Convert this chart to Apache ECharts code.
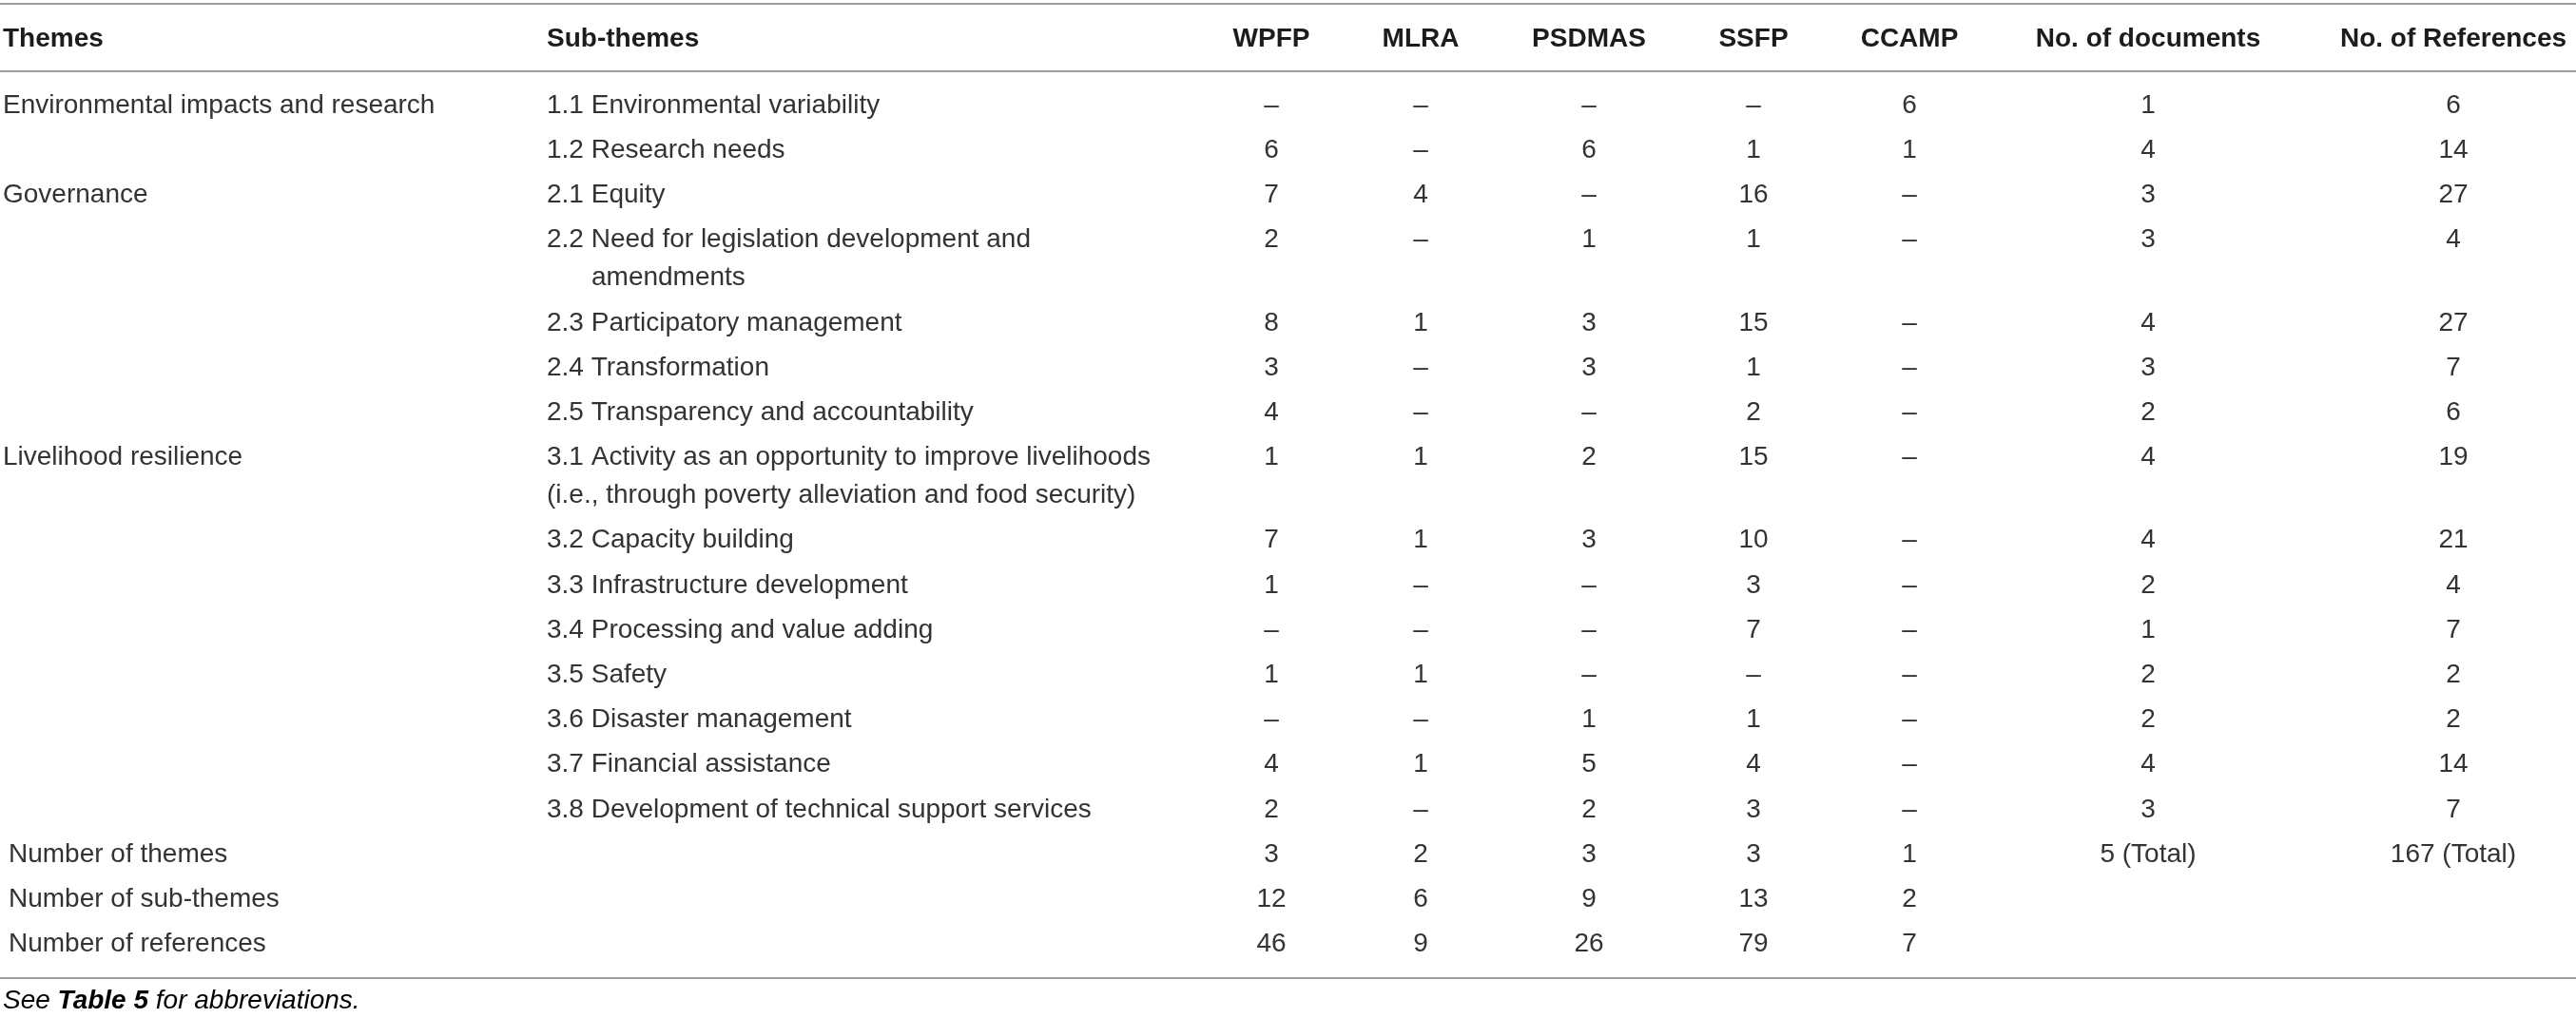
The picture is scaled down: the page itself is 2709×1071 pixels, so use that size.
<!DOCTYPE html>
<html>
<head>
<meta charset="utf-8">
<title>Themes and sub-themes by programme</title>
<script src="https://cdn.jsdelivr.net/npm/echarts@6.0.0/dist/echarts.min.js"></script>
<style>
    html, body { margin: 0; padding: 0; background: #fff; }
    #mainChart { width: 2709px; height: 1071px; }
</style>
</head>
<body>
<div id="mainChart"></div>
<script>
// table content
var columns = ['Themes', 'Sub-themes', 'WPFP', 'MLRA', 'PSDMAS', 'SSFP', 'CCAMP', 'No. of documents', 'No. of References'];
var themes = ['Environmental impacts and research', 'Governance', 'Livelihood resilience'];
var themeFirstRow = [0, 2, 7];
var subThemes = [
    '1.1 Environmental variability',
    '1.2 Research needs',
    '2.1 Equity',
    '2.2 Need for legislation development and\namendments',
    '2.3 Participatory management',
    '2.4 Transformation',
    '2.5 Transparency and accountability',
    '3.1 Activity as an opportunity to improve livelihoods\n(i.e., through poverty alleviation and food security)',
    '3.2 Capacity building',
    '3.3 Infrastructure development',
    '3.4 Processing and value adding',
    '3.5 Safety',
    '3.6 Disaster management',
    '3.7 Financial assistance',
    '3.8 Development of technical support services'
];
var wpfp   = [null, 6, 7, 2, 8, 3, 4, 1, 7, 1, null, 1, null, 4, 2];
var mlra   = [null, null, 4, null, 1, null, null, 1, 1, null, null, 1, null, 1, null];
var psdmas = [null, 6, null, 1, 3, 3, null, 2, 3, null, null, null, 1, 5, 2];
var ssfp   = [null, 1, 16, 1, 15, 1, 2, 15, 10, 3, 7, null, 1, 4, 3];
var ccamp  = [6, 1, null, null, null, null, null, null, null, null, null, null, null, null, null];
var noDocuments  = [1, 4, 3, 3, 4, 3, 2, 4, 4, 2, 1, 2, 2, 4, 3];
var noReferences = [6, 14, 27, 4, 27, 7, 6, 19, 21, 4, 7, 2, 2, 14, 7];

var summaryLabels = ['Number of themes', 'Number of sub-themes', 'Number of references'];
var numThemes     = [3, 2, 3, 3, 1];
var numSubThemes  = [12, 6, 9, 13, 2];
var numReferences = [46, 9, 26, 79, 7];
var totalDocuments = '5 (Total)';
var totalReferences = '167 (Total)';
var footnote = '{i|See }{b|Table 5}{i| for abbreviations.}';

// layout (pixels on the 2709 x 1071 canvas)
var W = 2709, H = 1071;
var colX = [3, 575, 1337, 1494, 1671, 1844, 2008, 2259, 2580];
var headerY = 41, firstRowY = 111, rowGap = 47.2, lineGap = 40;
var summaryIndent = 6, wrapIndent = 47, indentedWraps = [3];
var ruleY = [4, 75, 1029], footY = 1053;

var FONT = '"Liberation Sans", Arial, sans-serif';
var bodyFont = '28px ' + FONT;
var headFont = 'bold 28px ' + FONT;
var bodyColor = '#333333', headColor = '#1c1c1c';

var cells = [];
function cell(x, y, text, font, color, align) {
    cells.push({ x: x, y: y, text: text, font: font, color: color, align: align });
}
function fmt(v) { return v == null ? '\u2013' : String(v); }

// header
columns.forEach(function (c, i) {
    cell(colX[i], headerY, c, headFont, headColor, i < 2 ? 'left' : 'center');
});

// body rows
var programmes = [wpfp, mlra, psdmas, ssfp, ccamp];
var y = firstRowY;
subThemes.forEach(function (s, r) {
    var t = themeFirstRow.indexOf(r);
    if (t >= 0) cell(colX[0], y, themes[t], bodyFont, bodyColor, 'left');
    s.split('\n').forEach(function (line, j) {
        var dx = (j > 0 && indentedWraps.indexOf(r) >= 0) ? wrapIndent : 0;
        cell(colX[1] + dx, y + j * lineGap, line, bodyFont, bodyColor, 'left');
    });
    programmes.forEach(function (p, k) {
        cell(colX[2 + k], y, fmt(p[r]), bodyFont, bodyColor, 'center');
    });
    cell(colX[7], y, fmt(noDocuments[r]), bodyFont, bodyColor, 'center');
    cell(colX[8], y, fmt(noReferences[r]), bodyFont, bodyColor, 'center');
    y += rowGap + (s.split('\n').length - 1) * lineGap;
});

// summary rows
[numThemes, numSubThemes, numReferences].forEach(function (arr, r) {
    cell(colX[0] + summaryIndent, y, summaryLabels[r], bodyFont, bodyColor, 'left');
    arr.forEach(function (v, k) {
        cell(colX[2 + k], y, fmt(v), bodyFont, bodyColor, 'center');
    });
    if (r === 0) {
        cell(colX[7], y, totalDocuments, bodyFont, bodyColor, 'center');
        cell(colX[8], y, totalReferences, bodyFont, bodyColor, 'center');
    }
    y += rowGap;
});

var myChart = echarts.init(document.getElementById('mainChart'));

var option = {
    backgroundColor: '#fff',
    animation: false,
    grid: { left: 0, right: 0, top: 0, bottom: 0 },
    xAxis: { type: 'value', min: 0, max: W, show: false },
    yAxis: { type: 'value', min: 0, max: H, inverse: true, show: false },
    series: [
        {
            // horizontal rules
            type: 'custom',
            silent: true,
            data: ruleY.map(function (v) { return [0, v]; }),
            renderItem: function (params, api) {
                var a = api.coord([0, api.value(1)]);
                var b = api.coord([W, api.value(1)]);
                return {
                    type: 'line',
                    shape: { x1: a[0], y1: a[1], x2: b[0], y2: b[1] },
                    style: { stroke: '#9d9d9d', lineWidth: 2 }
                };
            }
        },
        {
            // table cells
            type: 'custom',
            silent: true,
            data: cells.map(function (c) { return [c.x, c.y]; }),
            renderItem: function (params, api) {
                var c = cells[params.dataIndex];
                var p = api.coord([api.value(0), api.value(1)]);
                return {
                    type: 'text',
                    x: p[0],
                    y: p[1],
                    style: {
                        text: c.text,
                        font: c.font,
                        fill: c.color,
                        align: c.align,
                        verticalAlign: 'middle'
                    }
                };
            }
        },
        {
            // footnote
            type: 'custom',
            silent: true,
            data: [[colX[0], footY]],
            renderItem: function (params, api) {
                var p = api.coord([api.value(0), api.value(1)]);
                return {
                    type: 'text',
                    x: p[0],
                    y: p[1],
                    style: {
                        text: footnote,
                        align: 'left',
                        verticalAlign: 'middle',
                        rich: {
                            i: { fontFamily: FONT, fontSize: 28, fontStyle: 'italic', color: bodyColor },
                            b: { fontFamily: FONT, fontSize: 28, fontStyle: 'italic', fontWeight: 'bold', color: headColor }
                        }
                    }
                };
            }
        }
    ]
};
myChart.setOption(option);
window.onresize = function () {
    myChart.resize();
};
</script>
</body>
</html>
